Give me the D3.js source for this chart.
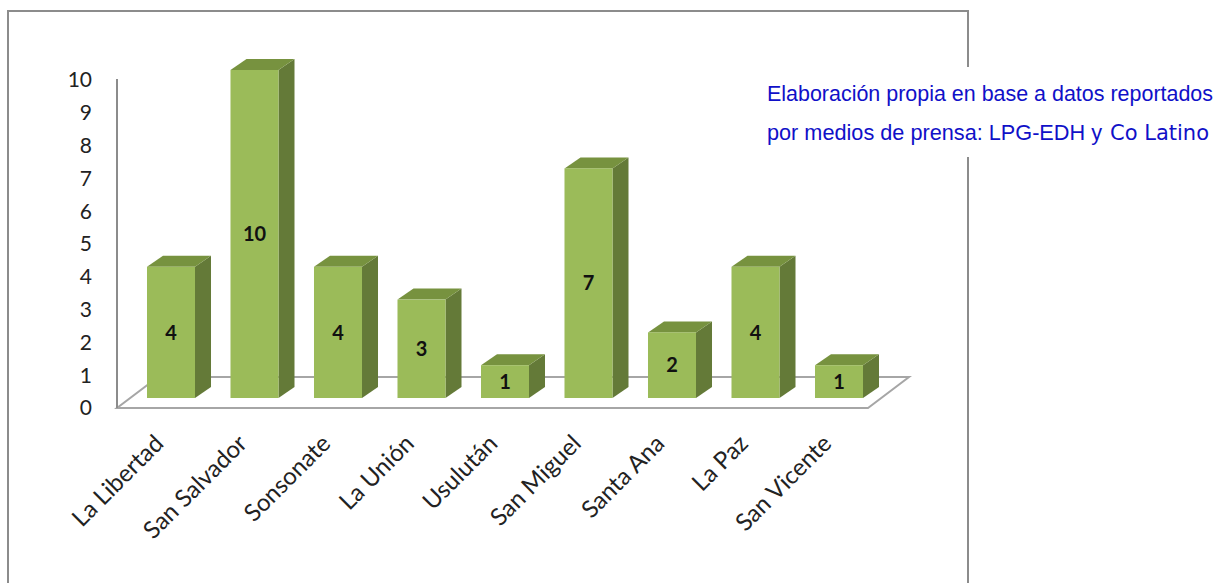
<!DOCTYPE html>
<html>
<head>
<meta charset="utf-8">
<script src="https://cdn.jsdelivr.net/npm/d3@7"></script>
<style>
  html, body { margin: 0; padding: 0; background: #fff; }
  svg { display: block; }
</style>
</head>
<body>
<svg id="chart" width="1225" height="583"></svg>
<script>
// Departamentos and counts
const departamentos = ["La Libertad", "San Salvador", "Sonsonate", "La Unión", "Usulután",
                       "San Miguel", "Santa Ana", "La Paz", "San Vicente"];
const casos = [4, 10, 4, 3, 1, 7, 2, 4, 1];
const yTicks = [0, 1, 2, 3, 4, 5, 6, 7, 8, 9, 10];
const nota = ["Elaboración propia en base a datos reportados",
              "por medios de prensa: LPG-EDH y"];
const notaFin = "Co Latino";

const svg = d3.select("#chart");

// 3D geometry: front plane of the floor, and the offset to its back edge
const floorFront = 408, floorDepth = { dx: 41, dy: -31 };
const barShift = -10;            // bars sit part-way into the floor
const barDepth = { dx: 16, dy: -11 };

const x = d3.scaleBand()
  .domain(departamentos)
  .range([129.25, 880.75])
  .paddingInner(0.425)
  .paddingOuter(0.2125);

const y = d3.scaleLinear().domain([0, 10]).range([floorFront, floorFront - 328]);

// chart frame
svg.append("rect")
  .attr("x", 8).attr("y", 11)
  .attr("width", 960).attr("height", 600)
  .attr("fill", "none")
  .attr("stroke", "#8c8c8c")
  .attr("stroke-width", 2);

// floor
const [fx0, fx1] = [117, 868];
svg.append("path")
  .attr("d", `M${fx0},${floorFront} L${fx1},${floorFront} L${fx1 + floorDepth.dx},${floorFront + floorDepth.dy} L${fx0 + floorDepth.dx},${floorFront + floorDepth.dy} Z`)
  .attr("fill", "#fff")
  .attr("stroke", "#a6a6a6")
  .attr("stroke-width", 2);

// value axis line
svg.append("line")
  .attr("x1", fx0).attr("x2", fx0)
  .attr("y1", y(10) - 1).attr("y2", floorFront)
  .attr("stroke", "#8c8c8c")
  .attr("stroke-width", 2);

svg.append("g")
  .selectAll("text")
  .data(yTicks)
  .join("text")
  .attr("x", 92)
  .attr("y", d => y(d) + 2)
  .attr("text-anchor", "end")
  .attr("dominant-baseline", "middle")
  .attr("font-family", "Lato, 'Open Sans', sans-serif")
  .attr("font-size", 21)
  .attr("fill", "#222")
  .text(d => d);

// bars
const bw = x.bandwidth();
const bars = svg.append("g")
  .selectAll("g")
  .data(departamentos.map((d, i) => ({ name: d, value: casos[i] })))
  .join("g");

const base = floorFront + barShift;
bars.each(function(d) {
  const g = d3.select(this);
  const x0 = x(d.name), x1 = x0 + bw;
  const top = y(d.value) + barShift;
  const { dx, dy } = barDepth;
  // side face
  g.append("path")
    .attr("d", `M${x1},${base} L${x1 + dx},${base + dy} L${x1 + dx},${top + dy} L${x1},${top} Z`)
    .attr("fill", "#647a38");
  // top face
  g.append("path")
    .attr("d", `M${x0},${top} L${x0 + dx},${top + dy} L${x1 + dx},${top + dy} L${x1},${top} Z`)
    .attr("fill", "#77923f");
  // front face
  g.append("rect")
    .attr("x", x0).attr("y", top)
    .attr("width", bw).attr("height", base - top)
    .attr("fill", "#9bbb59");
  // value label
  g.append("text")
    .attr("x", x0 + bw / 2)
    .attr("y", (top + base) / 2 + 2)
    .attr("text-anchor", "middle")
    .attr("dominant-baseline", "middle")
    .attr("font-family", "Lato, 'Open Sans', sans-serif")
    .attr("font-weight", "bold")
    .attr("font-size", 20)
    .attr("fill", "#111")
    .text(d.value);
});

// category labels, rotated
svg.append("g")
  .selectAll("text")
  .data(departamentos)
  .join("text")
  .attr("transform", d => `translate(${x(d) + bw / 2 - 6},${445}) rotate(-45)`)
  .attr("text-anchor", "end")
  .attr("font-family", "Lato, 'Open Sans', sans-serif")
  .attr("font-size", 24)
  .attr("fill", "#222")
  .text(d => d);

// source note box (covers the frame)
svg.append("rect")
  .attr("x", 755).attr("y", 67)
  .attr("width", 470).attr("height", 90)
  .attr("fill", "#fff");

const notaG = svg.append("g")
  .attr("font-family", "'Liberation Sans', Arial, sans-serif")
  .attr("font-size", 21.5)
  .attr("fill", "#1010c8");

notaG.append("text")
  .attr("x", 767).attr("y", 101)
  .attr("textLength", 446)
  .attr("lengthAdjust", "spacingAndGlyphs")
  .text(nota[0]);

const l2 = notaG.append("text")
  .attr("x", 767).attr("y", 140);
l2.append("tspan")
  .attr("textLength", 335)
  .attr("lengthAdjust", "spacingAndGlyphs")
  .text(nota[1]);
l2.append("tspan")
  .attr("x", 1110)
  .attr("font-family", "'DejaVu Sans', Verdana, sans-serif")
  .attr("font-size", 21)
  .text(notaFin);
</script>
</body>
</html>
